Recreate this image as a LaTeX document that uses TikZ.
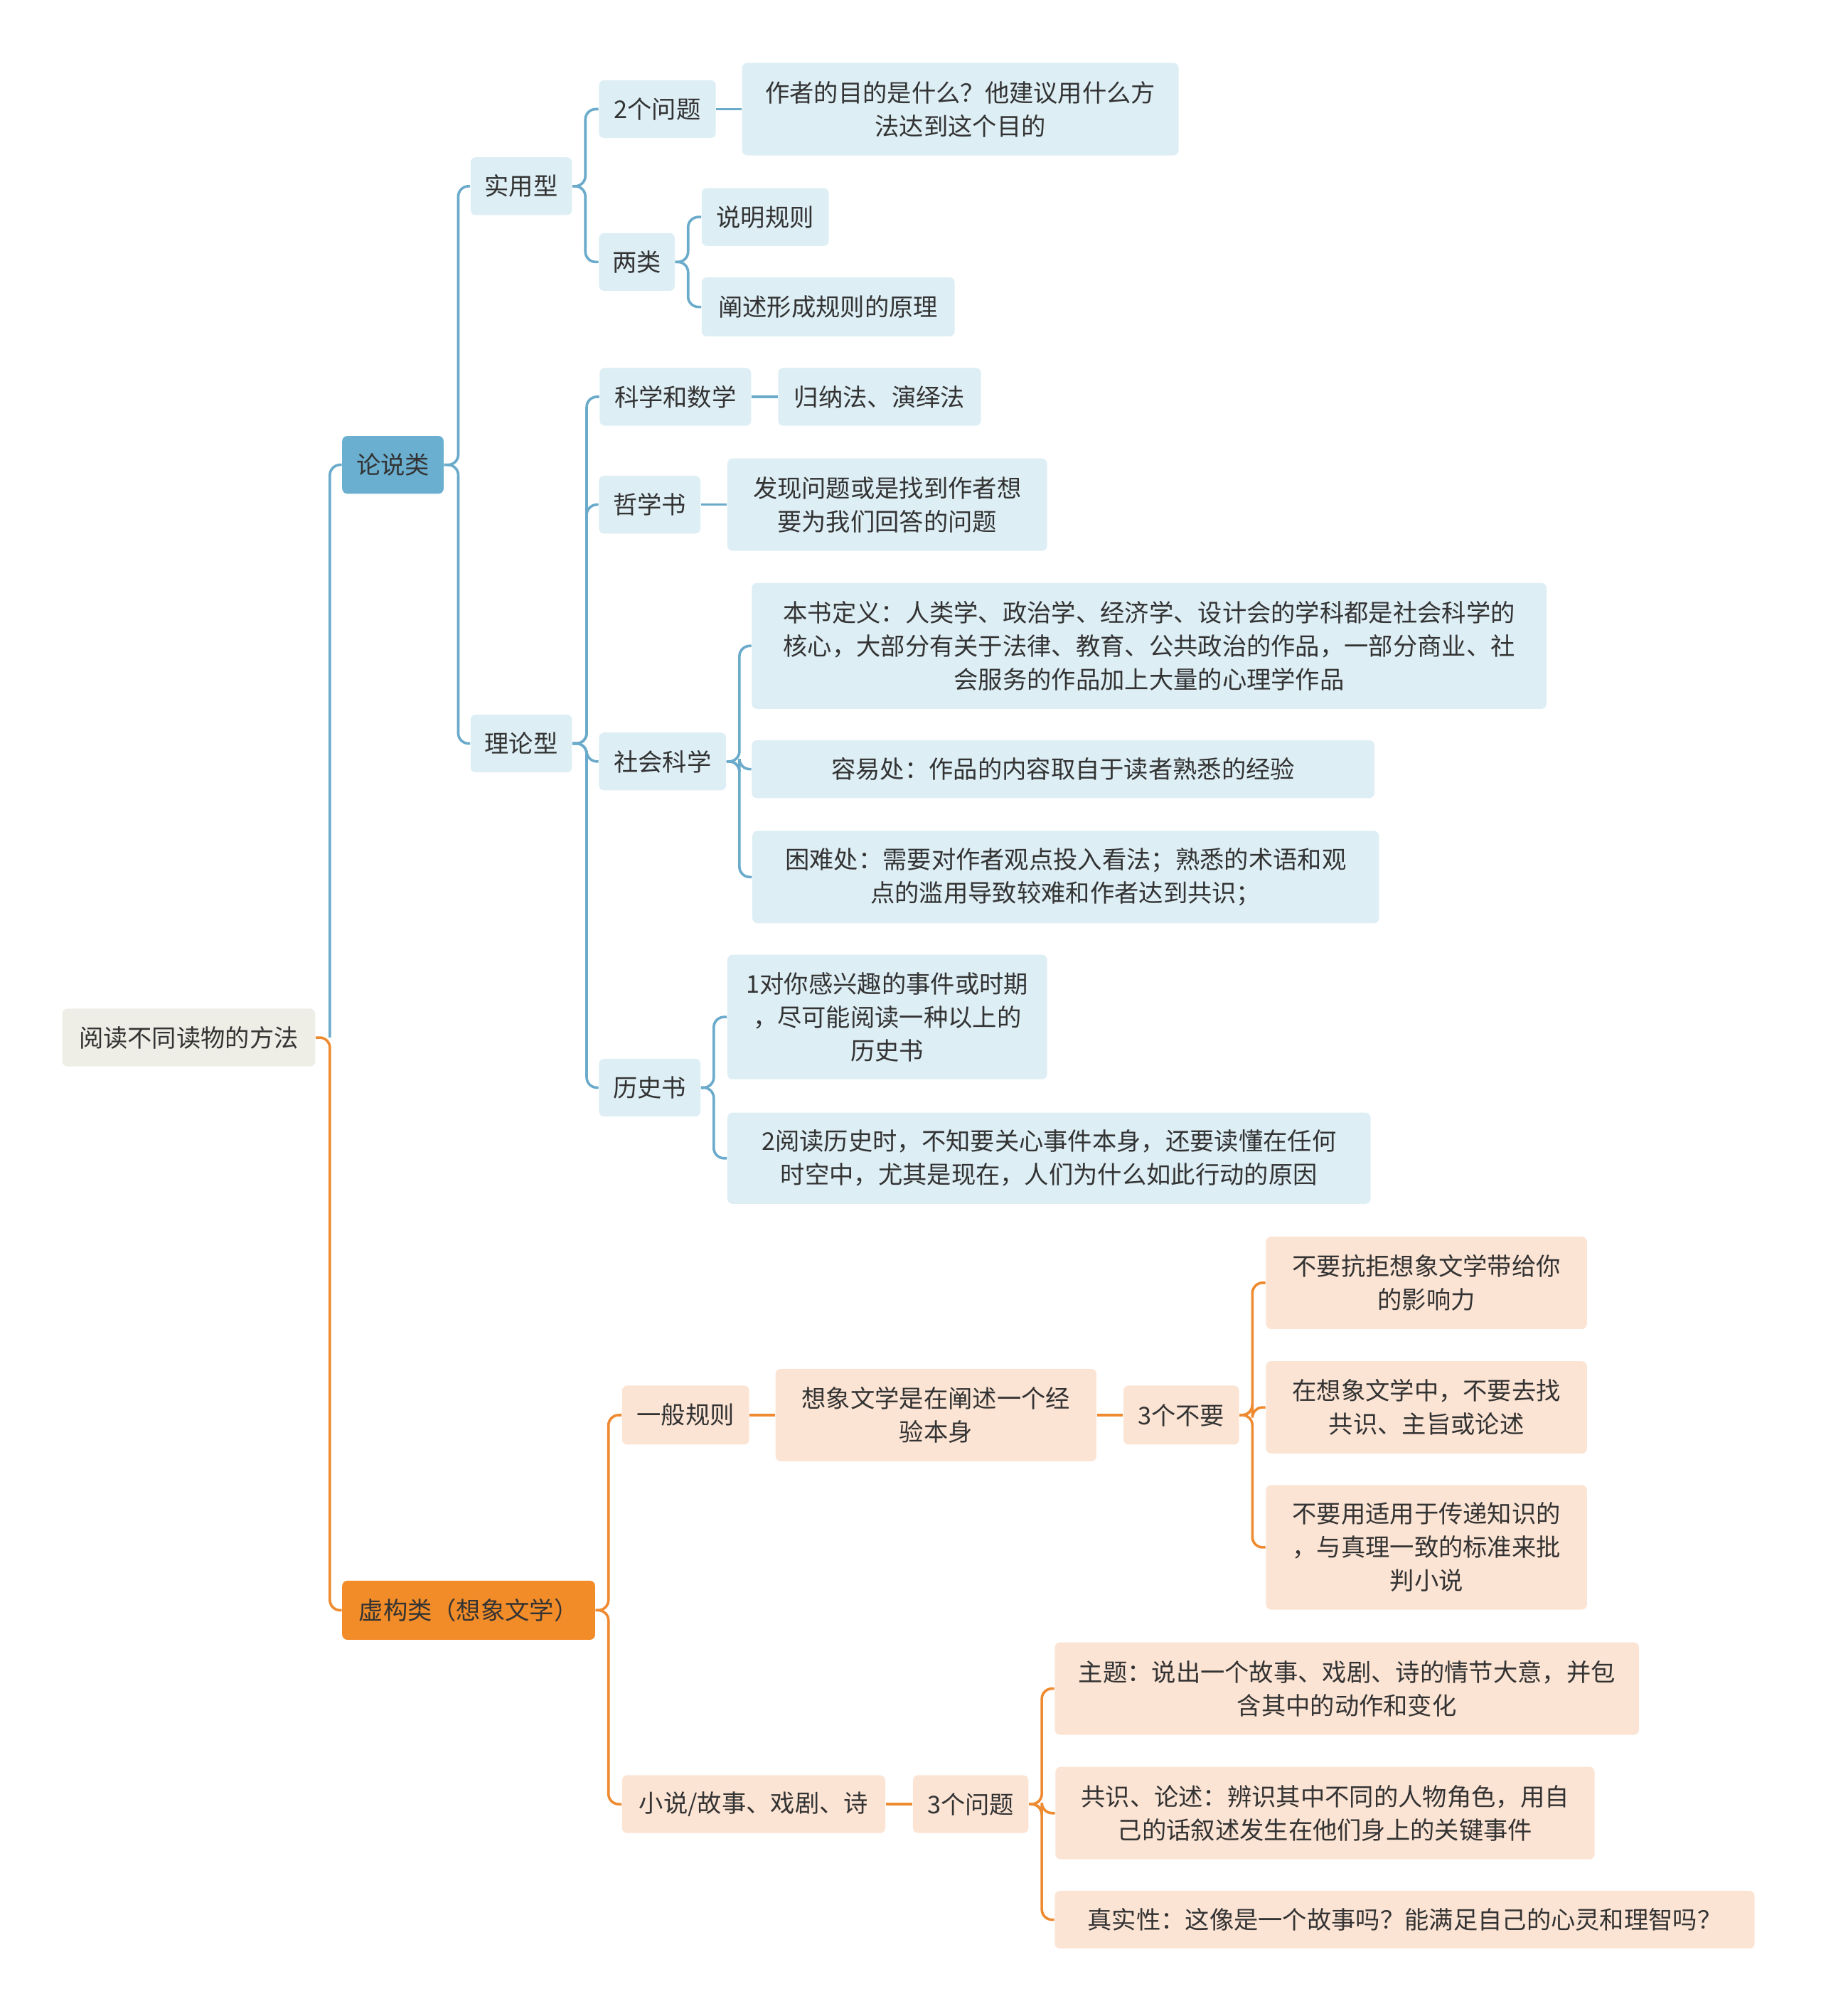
\documentclass[tikz,border=0pt]{standalone}
\usepackage{fontspec}
\setmainfont{Noto Sans CJK SC}
\definecolor{bluefill}{HTML}{DDEEF5}
\definecolor{blueline}{HTML}{6AAACA}
\definecolor{bluehead}{HTML}{6AAFD0}
\definecolor{orfill}{HTML}{FCE4D4}
\definecolor{orline}{HTML}{EE8A30}
\definecolor{orhead}{HTML}{F28C28}
\definecolor{rootfill}{HTML}{EEEEE6}
\definecolor{txt}{HTML}{333333}
\tikzset{
  box/.style={rectangle, rounded corners=2pt, align=center, text=txt,
    font=\fontsize{9.5pt}{13pt}\selectfont, inner sep=0pt},
  bluebox/.style={box, fill=bluefill},
  orbox/.style={box, fill=orfill},
  bline/.style={draw=blueline, line width=1pt, rounded corners=4pt},
  oline/.style={draw=orline, line width=1pt, rounded corners=4pt},
}
\newcommand{\sized}[3]{minimum width=#1*0.5pt, minimum height=#2*0.5pt, #3}
\begin{document}
\begin{tikzpicture}[x=0.5pt,y=-0.5pt]
  \useasboundingbox (0,0) rectangle (1418,1570);

  % root and main branches
  \node[box, fill=rootfill, minimum width=98.5pt, minimum height=22.5pt] (root) at (147,808) {阅读不同读物的方法};
  \node[box, fill=bluehead, minimum width=39.5pt, minimum height=22.5pt] (lun) at (306,362) {论说类};
  \node[box, fill=orhead, minimum width=98.5pt, minimum height=23pt] (xu) at (365,1254) {虚构类（想象文学）};

  % 论说类
  \node[bluebox, minimum width=39.5pt, minimum height=22.5pt] (shiyong) at (406,145) {实用型};
  \node[bluebox, minimum width=39.5pt, minimum height=22.5pt] (lilun) at (406,579) {理论型};
  \node[bluebox, minimum width=45.5pt, minimum height=22.5pt] (wenti) at (512,85) {2个问题};
  \node[bluebox, minimum width=170pt, minimum height=36pt] (mudi) at (748,85) {作者的目的是什么？他建议用什么方\\法达到这个目的};
  \node[bluebox, minimum width=29.5pt, minimum height=22.5pt] (liang) at (496,204) {两类};
  \node[bluebox, minimum width=49.5pt, minimum height=22.5pt] (shuoming) at (596,169) {说明规则};
  \node[bluebox, minimum width=98.5pt, minimum height=23pt] (chanshu) at (645,239) {阐述形成规则的原理};

  \node[bluebox, minimum width=59pt, minimum height=22.5pt] (kexue) at (526,309) {科学和数学};
  \node[bluebox, minimum width=79pt, minimum height=22.5pt] (guina) at (685,309) {归纳法、演绎法};
  \node[bluebox, minimum width=39.5pt, minimum height=22.5pt] (zhexue) at (506,393) {哲学书};
  \node[bluebox, minimum width=124.5pt, minimum height=36pt] (faxian) at (691,393) {发现问题或是找到作者想\\要为我们回答的问题};
  \node[bluebox, minimum width=49.5pt, minimum height=22.5pt] (shehui) at (516,593) {社会科学};
  \node[bluebox, minimum width=309.5pt, minimum height=49pt] (dingyi) at (895,503) {本书定义：人类学、政治学、经济学、设计会的学科都是社会科学的\\核心，大部分有关于法律、教育、公共政治的作品，一部分商业、社\\会服务的作品加上大量的心理学作品};
  \node[bluebox, minimum width=242.5pt, minimum height=22.5pt] (rongyi) at (828,599) {容易处：作品的内容取自于读者熟悉的经验};
  \node[bluebox, minimum width=244pt, minimum height=36pt] (kunnan) at (830,683) {困难处：需要对作者观点投入看法；熟悉的术语和观\\点的滥用导致较难和作者达到共识；};
  \node[bluebox, minimum width=39.5pt, minimum height=22.5pt] (lishi) at (506,847) {历史书};
  \node[bluebox, minimum width=124.5pt, minimum height=48.5pt] (lishia) at (691,792) {1对你感兴趣的事件或时期\\，尽可能阅读一种以上的\\历史书};
  \node[bluebox, minimum width=250.5pt, minimum height=35.5pt] (lishib) at (817,902) {2阅读历史时，不知要关心事件本身，还要读懂在任何\\时空中，尤其是现在，人们为什么如此行动的原因};

  % 虚构类
  \node[orbox, minimum width=49.5pt, minimum height=23pt] (yiban) at (534,1102) {一般规则};
  \node[orbox, minimum width=125pt, minimum height=36pt] (xiangxiang) at (729,1102) {想象文学是在阐述一个经\\验本身};
  \node[orbox, minimum width=45pt, minimum height=23pt] (buyao) at (920,1102) {3个不要};
  \node[orbox, minimum width=125pt, minimum height=36pt] (buyaoa) at (1111,999) {不要抗拒想象文学带给你\\的影响力};
  \node[orbox, minimum width=125pt, minimum height=36pt] (buyaob) at (1111,1096) {在想象文学中，不要去找\\共识、主旨或论述};
  \node[orbox, minimum width=125pt, minimum height=48.5pt] (buyaoc) at (1111,1205) {不要用适用于传递知识的\\，与真理一致的标准来批\\判小说};
  \node[orbox, minimum width=102.5pt, minimum height=22.5pt] (xiaoshuo) at (587,1405) {小说/故事、戏剧、诗};
  \node[orbox, minimum width=45pt, minimum height=22.5pt] (wen) at (756,1405) {3个问题};
  \node[orbox, minimum width=227.5pt, minimum height=36pt] (zhuti) at (1049,1315) {主题：说出一个故事、戏剧、诗的情节大意，并包\\含其中的动作和变化};
  \node[orbox, minimum width=210pt, minimum height=36pt] (gongshi) at (1032,1412) {共识、论述：辨识其中不同的人物角色，用自\\己的话叙述发生在他们身上的关键事件};
  \node[orbox, minimum width=272.5pt, minimum height=22.5pt] (zhenshi) at (1094,1495) {真实性：这像是一个故事吗？能满足自己的心灵和理智吗？};

  % connectors
  \draw[oline] (root.east) -- ++(11,0) |- (xu.west);
  \draw[bline] (root.east) ++(11,0) |- (lun.west);
  \foreach \c in {shiyong,lilun}
    \draw[bline] (lun.east) -- ++(11,0) |- (\c.west);
  \foreach \c in {wenti,liang}
    \draw[bline] (shiyong.east) -- ++(10,0) |- (\c.west);
  \draw[bline] (wenti.east) -- (mudi.west);
  \foreach \c in {shuoming,chanshu}
    \draw[bline] (liang.east) -- ++(10,0) |- (\c.west);
  \foreach \c in {kexue,zhexue,shehui,lishi}
    \draw[bline] (lilun.east) -- ++(11,0) |- (\c.west);
  \draw[bline] (kexue.east) -- (guina.west);
  \draw[bline] (zhexue.east) -- (faxian.west);
  \foreach \c in {dingyi,rongyi,kunnan}
    \draw[bline] (shehui.east) -- ++(10,0) |- (\c.west);
  \foreach \c in {lishia,lishib}
    \draw[bline] (lishi.east) -- ++(10,0) |- (\c.west);
  \foreach \c in {yiban,xiaoshuo}
    \draw[oline] (xu.east) -- ++(10,0) |- (\c.west);
  \draw[oline] (yiban.east) -- (xiangxiang.west);
  \draw[oline] (xiangxiang.east) -- (buyao.west);
  \foreach \c in {buyaoa,buyaob,buyaoc}
    \draw[oline] (buyao.east) -- ++(10,0) |- (\c.west);
  \draw[oline] (xiaoshuo.east) -- (wen.west);
  \foreach \c in {zhuti,gongshi,zhenshi}
    \draw[oline] (wen.east) -- ++(10,0) |- (\c.west);
\end{tikzpicture}
\end{document}
